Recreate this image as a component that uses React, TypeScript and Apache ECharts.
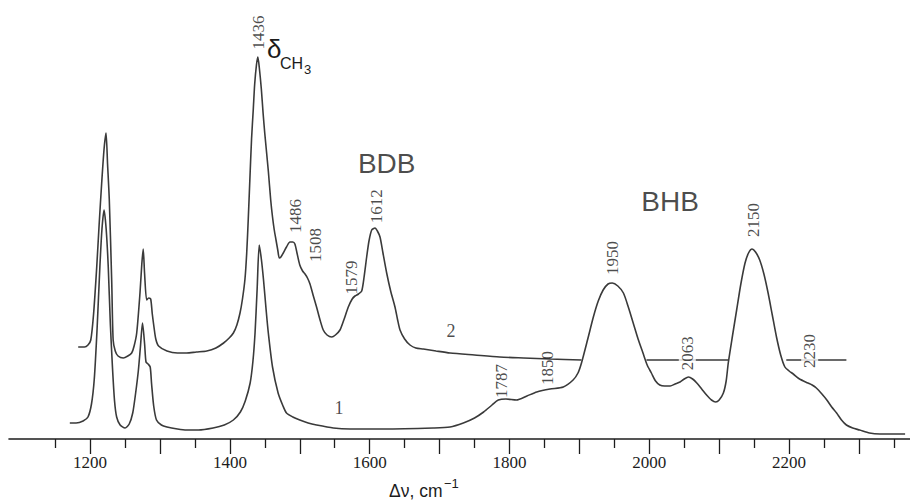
import React, { useEffect, useRef } from "react";
import * as echarts from "echarts";

// Spectrum 1 (lower curve): Raman shift (cm-1) and intensity (a.u.)
const wave1 = [1171,1180,1190,1197,1202,1206,1210,1214,1217,1220,1223,1226,1229,1232,1235,1238,1243,1250,1256,1261,1265,1269,1272,1275,1278,1280,1283,1286,1288,1291,1295,1302,1310,1325,1338,1355,1376,1392,1405,1415,1422,1429,1433,1436,1439,1442,1445,1448,1452,1455,1461,1469,1476,1481,1490,1500,1512,1524,1548,1572,1620,1691,1715,1734,1750,1763,1775,1784,1795,1810,1825,1839,1858,1877,1891,1898,1903,1912,1920,1927,1934,1941,1947,1955,1963,1970,1977,1984,1991,1997,2003,2009,2015,2022,2030,2037,2044,2050,2056,2062,2068,2075,2082,2089,2095,2100,2106,2110,2113,2119,2125,2131,2137,2142,2147,2152,2158,2164,2170,2176,2182,2188,2194,2200,2206,2215,2227,2233,2239,2247,2254,2261,2268,2275,2282,2291,2301,2315,2330,2345,2359,2366];
const int1 = [16,16,18,22,35,60,110,172,210,229,210,172,115,72,38,22,14,11,15,26,45,68,92,116,95,77,75,72,55,33,19,14,12,10,9,9,11,14,19,27,38,56,78,106,150,194,180,160,128,106,72,46,33,26,22,19,16,14,11,10,10,11,12,16,21,27,34,39,40,39,43,47,50,52,59,66,76,100,122,138,149,155,156,153,146,132,116,100,86,74,66,58,54,53,53,55,57,60,62,60,56,50,44,39,37,39,46,58,76,103,129,155,176,186,190,187,179,165,146,124,102,84,72,68,65,60,56,54,51,45,39,32,26,19,14,11,9,6,5,5,5,5];

// Spectrum 2 (upper curve); null = hidden behind spectrum 1
const wave2 = [1183,1192,1197,1201,1205,1209.5,1213,1216.6,1220,1222.8,1225,1227.5,1231,1233,1236,1240,1247.5,1254,1259.5,1263,1266.7,1271.4,1274,1276,1278,1281,1284,1286.7,1289,1291.4,1294,1298,1310,1325,1338,1352,1367,1380,1391,1399,1405,1410,1414.5,1418,1421.6,1424,1426.3,1428.5,1431,1433.5,1435.5,1438,1440,1442,1445,1447.5,1450,1455,1458.4,1461,1463.5,1466,1468.5,1470.7,1473,1476.4,1481,1486,1490,1493,1496,1500,1504,1507.5,1511,1514.6,1519,1524,1529,1533.6,1539,1545.7,1551,1557.5,1563,1569.4,1575,1579,1584,1588.6,1592,1595.7,1599,1602.9,1607.6,1611,1614.8,1619,1624.3,1630,1636.2,1640,1643.4,1650,1657.7,1666,1676.7,1695,1715,1750,1786,1820,1858,1903,1950,1996,2041,2113,2150,2196,2240,2282];
const int2 = [92,92,94,99,125,172,215,256,290,306,275,239,156,99,88,83,81,83,86,93,106,146,175,190,165,139,141,140,125,112,100,93,88,86,86,87,88,91,96,101,106,114,126,140,160,185,220,258,300,330,355,374,382,372,350,326,305,268,239,222,209,199,189,181,182,186,192,197,197,195,186,174,168,165,161,155,144,132,119,109,104,102,104,109,119,132,140,143,145,148,162,182,198,209,211,208,202,186,166,148,132,119,109,100,94,91,90,88,86,84,82,81,80,79,null,79,79,79,null,79,79,79];

// Axis ticks
const minorTicks = [1150,1250,1350,1450,1550,1650,1750,1850,1950,2050,2150,2250,2350];
const majorTicks = [1200,1300,1400,1500,1600,1700,1800,1900,2000,2100,2200,2300];
const tickLabels = [1200,1400,1600,1800,2000,2200];

// Peak annotations (label text, anchor shift, anchor intensity, masks line)
const peakNames = ["1436","1486","1508","1579","1612","1787","1850","1950","2063","2150","2230"];
const peakWave = [1441.4,1494.3,1521.8,1573.3,1609.5,1789.3,1853.7,1948,2054.4,2148.4,2229.5];
const peakInt = [406.5,223,194,161.5,232.7,58,71,181,85.7,219,88];
const peakMask = [false,false,false,false,false,false,false,false,true,false,true];

// Band / curve labels
const bandNames = ["BDB","BHB"];
const bandWave = [1624.3,2029.7];
const bandInt = [275.3,237.3];
const curveNames = ["1","2"];
const curveWave = [1556,1716.3];
const curveInt = [31,108];

const X_MIN = 1084;
const X_MAX = 2373;
const INK = "#1c1c1c";
const LINE = "#3a3a3a";
const SERIF = "'Liberation Serif', 'DejaVu Serif', serif";
const SANS = "'Liberation Sans', Arial, sans-serif";

export default function App() {
  const ref = useRef<HTMLDivElement>(null);
  useEffect(() => {
    if (!ref.current) return;
    const chart = echarts.init(ref.current, null, { renderer: "svg" });
    const axisBase: any = {
      type: "value",
      min: X_MIN,
      max: X_MAX,
      position: "bottom",
      splitLine: { show: false },
    };
    chart.setOption({
      animation: false,
      backgroundColor: "#ffffff",
      grid: { left: 9, right: 0, top: 20, bottom: 61 },
      xAxis: [
        {
          ...axisBase,
          axisLine: { show: true, lineStyle: { color: INK, width: 1.6 } },
          axisTick: { show: true, customValues: minorTicks, length: 9, lineStyle: { color: INK, width: 1.3 } },
          axisLabel: { show: false },
        },
        {
          ...axisBase,
          axisLine: { show: false },
          axisTick: { show: true, customValues: majorTicks, length: 15, lineStyle: { color: INK, width: 1.3 } },
          axisLabel: {
            show: true,
            customValues: tickLabels,
            formatter: (v: number) => String(v),
            fontFamily: SERIF,
            fontSize: 17,
            color: INK,
            margin: 15,
          },
        },
      ],
      yAxis: { type: "value", min: 0, max: 419, show: false },
      series: [
        {
          name: "2",
          type: "line",
          showSymbol: false,
          connectNulls: false,
          smooth: 0.25,
          data: wave2.map((w, i) => [w, int2[i]]),
          lineStyle: { color: LINE, width: 1.6 },
          silent: true,
          z: 2,
        },
        {
          name: "1",
          type: "line",
          showSymbol: false,
          smooth: 0.25,
          data: wave1.map((w, i) => [w, int1[i]]),
          lineStyle: { color: LINE, width: 1.6 },
          silent: true,
          z: 3,
        },
        {
          name: "peaks",
          type: "scatter",
          symbolSize: 1,
          itemStyle: { color: "transparent" },
          silent: true,
          z: 5,
          data: peakNames.map((n, i) => ({
            value: [peakWave[i], peakInt[i]],
            name: n,
            label: peakMask[i] ? { backgroundColor: "#ffffff", padding: [0, 1] } : {},
          })),
          label: {
            show: true,
            position: "inside",
            rotate: 90,
            formatter: (p: any) => p.name,
            fontFamily: SERIF,
            fontSize: 17,
            color: INK,
          },
        },
        {
          name: "bands",
          type: "scatter",
          symbolSize: 1,
          itemStyle: { color: "transparent" },
          silent: true,
          z: 5,
          data: bandNames.map((n, i) => ({ value: [bandWave[i], bandInt[i]], name: n })),
          label: {
            show: true,
            position: "inside",
            formatter: (p: any) => p.name,
            fontFamily: SANS,
            fontSize: 28,
            color: INK,
          },
        },
        {
          name: "curves",
          type: "scatter",
          symbolSize: 1,
          itemStyle: { color: "transparent" },
          silent: true,
          z: 5,
          data: curveNames.map((n, i) => ({ value: [curveWave[i], curveInt[i]], name: n })),
          label: {
            show: true,
            position: "inside",
            formatter: (p: any) => p.name,
            fontFamily: SERIF,
            fontSize: 18,
            color: INK,
          },
        },
      ],
      graphic: [
        { type: "text", x: 267, y: 49, style: { text: "δ", fontFamily: SANS, fontSize: 26, fill: INK, textAlign: "left", textVerticalAlign: "middle" } },
        { type: "text", x: 280, y: 63, style: { text: "CH", fontFamily: SANS, fontSize: 16, fill: INK, textAlign: "left", textVerticalAlign: "middle" } },
        { type: "text", x: 304, y: 69, style: { text: "3", fontFamily: SANS, fontSize: 13, fill: INK, textAlign: "left", textVerticalAlign: "middle" } },
        { type: "text", x: 389, y: 491, style: { text: "Δν, cm", fontFamily: SANS, fontSize: 17.5, fill: INK, textAlign: "left", textVerticalAlign: "middle" } },
        { type: "text", x: 444, y: 483, style: { text: "−1", fontFamily: SANS, fontSize: 13, fill: INK, textAlign: "left", textVerticalAlign: "middle" } },
      ],
    });
    return () => chart.dispose();
  }, []);
  return (
    <div
      ref={ref}
      style={{ position: "fixed", left: 0, top: 0, width: 910, height: 500, background: "#fff" }}
    />
  );
}
